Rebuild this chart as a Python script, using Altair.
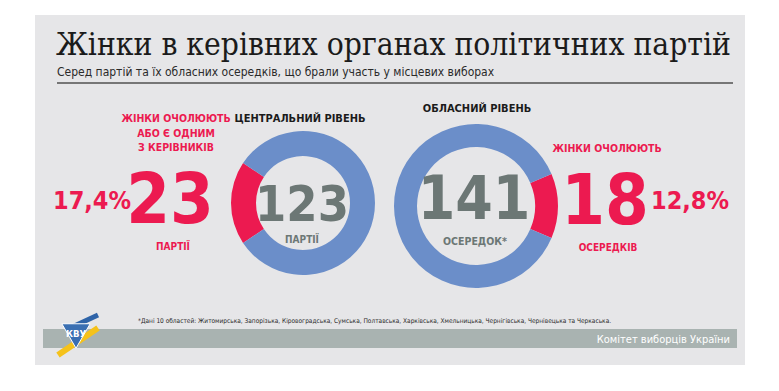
import math
import altair as alt
import pandas as pd

# ---- data ----
title = "Жінки в керівних органах політичних партій"
subtitle = "Серед партій та їх обласних осередків, що брали участь у місцевих виборах"
levels = ["ЦЕНТРАЛЬНИЙ РІВЕНЬ", "ОБЛАСНИЙ РІВЕНЬ"]
totals = [123, 141]
women = [23, 18]
pct_labels = ["17,4%", "12,8%"]
total_units = ["ПАРТІЇ", "ОСЕРЕДОК*"]
women_units = ["ПАРТІЇ", "ОСЕРЕДКІВ"]
women_caption_left = ["ЖІНКИ ОЧОЛЮЮТЬ", "АБО Є ОДНИМ", "З КЕРІВНИКІВ"]
women_caption_right = ["ЖІНКИ ОЧОЛЮЮТЬ"]
footnote = ("*Дані 10 областей: Житомирська, Запорізька, Кіровоградська, Сумська, Полтавська, "
            "Харківська, Хмельницька, Чернігівська, Чернівецька та Черкаська.")
org = "Комітет виборців України"

RED = "#ec1a50"
BLUE = "#6b8ec9"
GREY_NUM = "#6c7775"
PANEL = "#e6e6e8"
BAND = "#a9b3b1"
NARROW = "'DejaVu Sans Condensed', 'DejaVu Sans', sans-serif"
SERIF = "'DejaVu Serif Condensed', 'DejaVu Serif', serif"

W, H = 763, 375


def px(v):
    return v - 8


base = alt.Chart(alt.Data(values=[{"k": 1}]))


def txt(s, x, y, size, color, font=NARROW, weight="bold", align="center", baseline="alphabetic"):
    return base.mark_text(text=s, fontSize=size, color=color, font=font, fontWeight=weight,
                          align=align, baseline=baseline).encode(
        x=alt.value(px(x)), y=alt.value(px(y)))


def rect(x1, y1, x2, y2, color):
    return base.mark_rect(color=color).encode(
        x=alt.value(px(x1)), x2=alt.value(px(x2)), y=alt.value(px(y1)), y2=alt.value(px(y2)))


def donut(total, w, center_angle, cx, cy, r_out, r_in):
    df = pd.DataFrame({"seg": ["women", "others"], "v": [w, total - w], "o": [0, 1]})
    start = center_angle - math.pi * w / total
    return alt.Chart(df).mark_arc(radius=r_out, radius2=r_in).encode(
        theta=alt.Theta("v:Q", stack=True, scale=alt.Scale(range=[start, start + 2 * math.pi])),
        order=alt.Order("o:Q"),
        color=alt.Color("seg:N", scale=alt.Scale(domain=["women", "others"], range=[RED, BLUE]),
                        legend=None),
        x=alt.value(px(cx)), y=alt.value(px(cy)),
    )


layers = [
    rect(35, 15, 745, 365, PANEL),
    txt(title, 56, 55, 31.5, "#1b1b1b", font=SERIF, weight="normal", align="left"),
    txt(subtitle, 57, 76, 12, "#2a2a2a", weight="normal", align="left"),
    base.mark_rule(color="#505050", strokeWidth=1.5).encode(
        x=alt.value(px(57)), x2=alt.value(px(733)), y=alt.value(px(83))),
    donut(totals[0], women[0], 3 * math.pi / 2, 303, 203, 72, 47),
    donut(totals[1], women[1], math.pi / 2, 476, 206, 82, 59),
    txt(levels[0], 300, 122, 11, "#1b1b1b"),
    txt(levels[1], 477, 112, 11, "#1b1b1b"),
    txt(str(totals[0]), 302, 221, 50, GREY_NUM),
    txt(total_units[0], 302, 243, 10, GREY_NUM),
    txt(str(totals[1]), 474, 219, 60, GREY_NUM),
    txt(total_units[1], 475, 244.5, 10.5, GREY_NUM),
    txt(str(women[0]), 170, 223, 70, RED),
    txt(women_units[0], 173, 250, 10, RED),
    txt(pct_labels[0], 92, 209, 25, RED),
    txt(str(women[1]), 605, 224, 70, RED),
    txt(women_units[1], 608, 251, 10, RED),
    txt(pct_labels[1], 690, 209, 25, RED),
    txt(women_caption_right[0], 607, 151.5, 10.5, RED),
]
for i, line in enumerate(women_caption_left):
    layers.append(txt(line, 176, 122 + i * 14.5, 10.5, RED))

layers += [
    txt(footnote, 138, 323, 6.5, "#2a2a2a", weight="normal", align="left"),
    rect(43, 329, 737, 348, BAND),
    txt(org, 730, 342.5, 11, "#ffffff", weight="normal", align="right"),
    # logo approximation
    base.mark_rule(color="#f5c21b", strokeWidth=6).encode(
        x=alt.value(px(58)), x2=alt.value(px(98)), y=alt.value(px(355)), y2=alt.value(px(328))),
    base.mark_rule(color="#2f64a8", strokeWidth=5).encode(
        x=alt.value(px(70)), x2=alt.value(px(98)), y=alt.value(px(328)), y2=alt.value(px(315))),
    base.mark_point(shape="triangle-down", filled=True, color="#3a6fb2", size=800, opacity=1,
                    stroke="#ffffff", strokeWidth=1).encode(
        x=alt.value(px(76)), y=alt.value(px(336))),
    txt("КВУ", 76, 337, 9.5, "#ffffff", weight="bold"),
]

chart = alt.layer(*layers).resolve_scale(theta="independent").properties(
    width=W, height=H, padding=0, autosize=alt.AutoSizeParams(type="none"),
    background="#ffffff",
).configure_view(stroke=None)

chart.save("out.html", embed_options={"renderer": "svg", "actions": False})
